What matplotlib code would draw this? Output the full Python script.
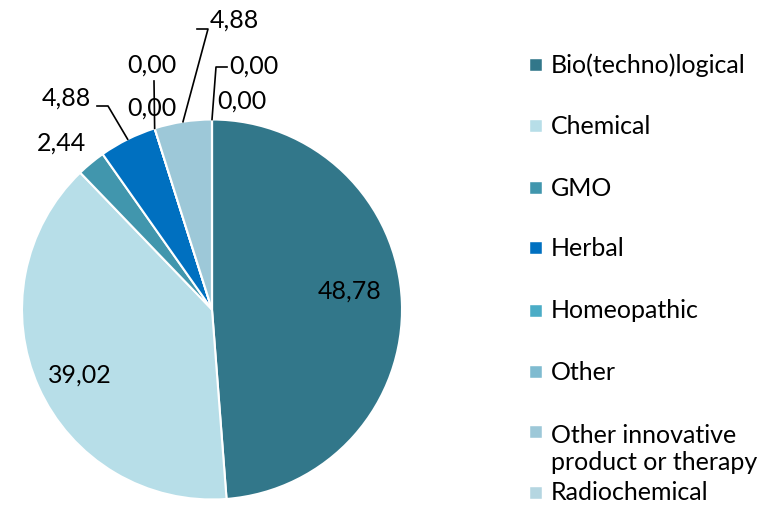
import numpy as np
import matplotlib
matplotlib.use('Agg')
import matplotlib.pyplot as plt

plt.rcParams['font.family'] = ['Lato', 'DejaVu Sans']

# data
categories = ['Bio(techno)logical', 'Chemical', 'GMO', 'Herbal', 'Homeopathic',
              'Other', 'Other innovative\nproduct or therapy', 'Radiochemical', '']
values = [48.78, 39.02, 2.44, 4.88, 0.00, 0.00, 4.88, 0.00, 0.00]
value_labels = ['48,78', '39,02', '2,44', '4,88', '0,00', '0,00', '4,88', '0,00', '0,00']
colors = ['#32778A', '#B7DEE8', '#4196AD', '#0070C0', '#4BACC6',
          '#7FBBD0', '#9DC8D8', '#B5D6E1', '#C5E0E9']

W, H = 769, 507
CX, CY, R = 212, 309.5, 190


def px(x, y):
    # pixel (from top-left) -> data units of the pie axes
    return (x - CX) / R, (CY - y) / R


fig = plt.figure(figsize=(W / 100, H / 100), dpi=100)
ax = fig.add_axes([0, 0, 1, 1])

ax.pie(values, colors=colors, startangle=90, counterclock=False, radius=1,
       wedgeprops=dict(edgecolor='white', linewidth=1.5))
ax.set_aspect('auto')
ax.set_xlim(-CX / R, (W - CX) / R)
ax.set_ylim((CY - H) / R, CY / R)
ax.axis('off')

# mid angles of each slice, clockwise from top
cum = np.cumsum(values) - np.array(values) / 2
theta = np.deg2rad(np.array(cum) / sum(values) * 360)
edge = [(np.sin(t), np.cos(t)) for t in theta]

fs = 18
# label text centres (px) and leader elbows (px) - layout only
label_pos = [(350, 291), (80, 375), (62, 143), (66, 98), (152, 65),
             (152, 108), (234, 20), (254, 66), (242, 101)]
elbows = {3: [(97, 106), (108, 106)], 4: [(154, 81)],
          6: [(197, 29), (208, 29)], 7: [(227, 67), (216, 67)]}

for i, lab in enumerate(value_labels):
    x, y = px(*label_pos[i])
    ax.text(x, y, lab, fontsize=fs, ha='center', va='center', color='black')
    if i in elbows:
        pts = [px(*p) for p in elbows[i]] + [edge[i]]
        ax.plot([p[0] for p in pts], [p[1] for p in pts], color='black', lw=1.2)

# legend
rows = [65, 126, 188, 248, 311, 372, 432, 493]
for i in range(8):
    x, y = px(536, rows[i])
    ax.plot(x, y, marker='s', ms=8.5, color=colors[i], mec='white', mew=0.3)
    if '\n' in categories[i]:
        tx, ty = px(551, rows[i] + 17)
        ax.text(tx, ty, categories[i], fontsize=fs, ha='left', va='center',
                linespacing=1.2)
    else:
        tx, ty = px(551, rows[i])
        ax.text(tx, ty, categories[i], fontsize=fs, ha='left', va='center')

fig.savefig('out.png', dpi=100)
